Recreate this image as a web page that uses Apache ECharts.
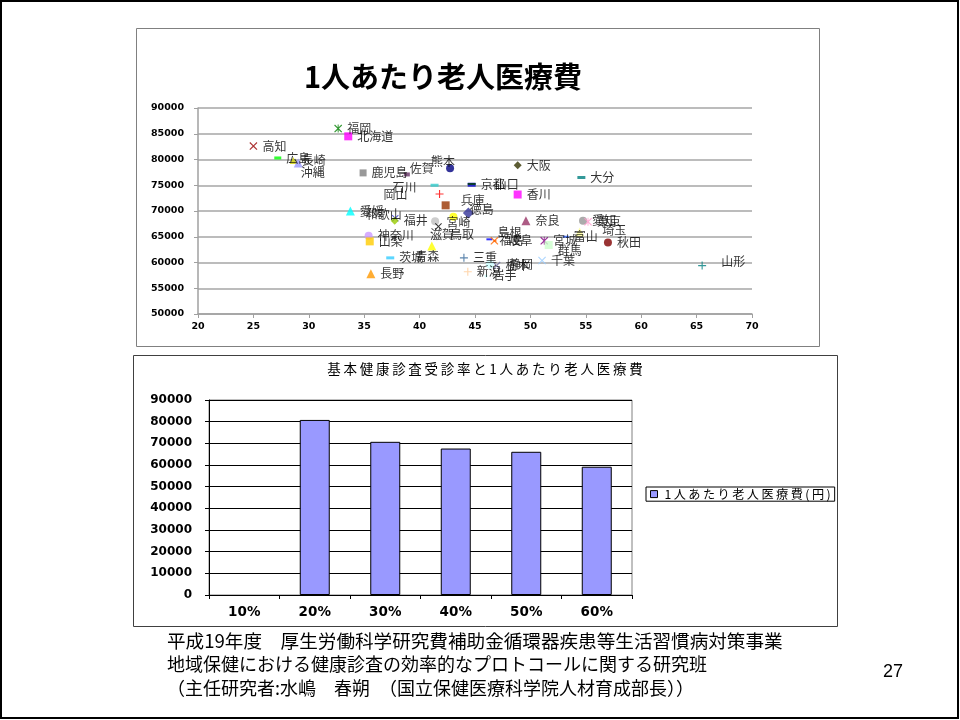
<!DOCTYPE html>
<html>
<head>
<meta charset="utf-8">
<script src="https://cdn.jsdelivr.net/npm/echarts@6/dist/echarts.min.js"></script>
<style>
html,body{margin:0;padding:0;background:#fff;}
#chart{width:960px;height:720px;}
</style>
</head>
<body>
<div id="chart"></div>
<script>
// ---- Scatter data: 基本健康診査受診率 (%) vs 1人あたり老人医療費 (円) ----
const prefNames = ['福岡','北海道','高知','広島','長崎','沖縄','鹿児島','佐賀','熊本','大阪','大分','京都','山口','石川','岡山','香川','兵庫','徳島','愛媛','和歌山','福井','宮崎','滋賀','鳥取','神奈川','山梨','青森','茨城','長野','三重','新潟','島根','福島','岐阜','栃木','静岡','岩手','奈良','愛知','東京','埼玉','富山','宮城','群馬','秋田','千葉','山形'];
const screeningRate = [32.65,33.56,25.0,27.2,28.6,29.05,34.9,38.85,42.75,48.85,54.6,44.7,44.7,41.35,41.8,48.85,42.35,44.4,33.75,37.8,37.75,43.05,41.4,41.7,35.4,35.5,41.1,37.35,35.6,44.0,44.35,46.3,46.75,46.8,46.95,46.35,46.0,49.6,54.75,55.2,54.45,53.2,51.25,51.65,57.0,51.05,65.5];
const elderCost = [86000,84500,82600,80300,79800,79300,77400,77100,78300,78900,76500,75100,75250,75000,73300,73200,71100,69600,70000,68600,68100,68900,68000,67000,65200,64100,63200,60900,57800,60900,58200,64500,64200,64200,59400,59600,57400,68100,68100,67900,65900,65000,64200,63400,63900,60400,59400];

// ---- Bar data: 受診率区分別 平均 1人あたり老人医療費 ----
const rateCategories = ['10%','20%','30%','40%','50%','60%'];
const avgCost = [null,80800,70700,67600,66100,59200];
const barSeriesName = '1人あたり老人医療費(円)';

// ---- Marker styles (symbol, color, size) ----
const SYM = {
  x: 'path://M1,0L5,4L9,0L10,1L6,5L10,9L9,10L5,6L1,10L0,9L4,5L0,1Z',
  plus: 'path://M4.3,0H5.7V4.3H10V5.7H5.7V10H4.3V5.7H0V4.3H4.3Z',
  star: 'path://M1,0L5,4L9,0L10,1L6,5L10,9L9,10L5,6L1,10L0,9L4,5L0,1Z M4.4,0H5.6V10H4.4Z',
  dash: 'path://M0,0H10V3H0Z'
};
const markerStyle = {
  '福岡':['star','#008000',8], '北海道':['rect','#FF00FF',8], '高知':['x','#990000',8],
  '広島':['dash','#00FF00',[7,3]], '長崎':['triangle','#CCCC00',7], '沖縄':['triangle','#9999FF',9],
  '鹿児島':['rect','#808080',7], '佐賀':['dash','#663366',[6,4]], '熊本':['circle','#000080',8],
  '大阪':['diamond','#333300',8], '大分':['dash','#008080',[8,3]], '京都':['dash','#0000CC',[8,4]],
  '山口':['dash','#004000',[8,2]], '石川':['dash','#33CCCC',[8,3]], '岡山':['plus','#FF0000',8],
  '香川':['rect','#FF00FF',8], '兵庫':['rect','#993300',8], '徳島':['diamond','#333399',11],
  '愛媛':['triangle','#00FFFF',9], '和歌山':['x','#3333CC',7], '福井':['diamond','#99CC00',8],
  '宮崎':['circle','#FFFF00',8], '滋賀':['circle','#C0C0C0',8], '鳥取':['x','#000000',7],
  '神奈川':['circle','#CC99FF',8], '山梨':['rect','#FFCC00',8], '青森':['triangle','#FFFF00',9],
  '茨城':['dash','#33CCFF',[8,3]], '長野':['triangle','#FF9900',9], '三重':['plus','#336699',8],
  '新潟':['plus','#FFCC99',8], '島根':['dash','#0000FF',[6,2]], '福島':['x','#FF6600',8],
  '岐阜':['dash','#FF6600',[3,2]], '栃木':['x','#666699',8], '静岡':['circle','#CCFFFF',8],
  '岩手':['circle','#CCFFFF',3], '奈良':['triangle','#993366',9], '愛知':['circle','#969696',8],
  '東京':['star','#FF99CC',8], '埼玉':['triangle','#FFFF99',9], '富山':['dash','#3366FF',[6,2]],
  '宮城':['star','#800080',8], '群馬':['rect','#CCFFCC',8], '秋田':['circle','#800000',8],
  '千葉':['x','#99CCFF',8], '山形':['plus','#008080',8]
};
const labelShift = {
  '熊本':[-28,-7], '石川':[-51,2], '岡山':[-65,0], '沖縄':[-7,9], '佐賀':[-5,-6], '山口':[14,0],
  '兵庫':[6,-5], '徳島':[-9,-4], '和歌山':[-38,-4], '宮崎':[-16,6], '滋賀':[-14,13], '鳥取':[3,8],
  '青森':[-26,10], '島根':[0,-7], '福島':[-4,0], '岐阜':[7,0], '静岡':[10,0], '埼玉':[13,-2],
  '群馬':[0,5], '山形':[10,-4]
};

const scatterData = prefNames.map(function(n, i){
  const st = markerStyle[n];
  const sym = SYM[st[0]] || st[0];
  return {
    name: n,
    value: [screeningRate[i], elderCost[i]],
    symbol: sym,
    symbolSize: st[2],
    itemStyle: {color: st[1]},
    label: {offset: labelShift[n] || [0,0]}
  };
});

function spaced(s, sp){ return s.split('').join(sp); }
function plain(v){ return String(v); }

const chart = echarts.init(document.getElementById('chart'));
const axisFont = 'DejaVu Sans';
const jpFont = '"Noto Sans CJK JP"';
chart.setOption({
  animation: false,
  backgroundColor: '#ffffff',
  grid: [
    {left:198, top:108, width:554, height:206},
    {left:209, top:400, width:423, height:195, show:true, borderColor:'#808080', borderWidth:1, backgroundColor:'#ffffff'}
  ],
  xAxis: [
    {type:'value', gridIndex:0, min:20, max:70, interval:5,
     axisLine:{show:true, onZero:false, lineStyle:{color:'#a0a0a0', width:1.5}},
     axisTick:{show:true, length:4, lineStyle:{color:'#a0a0a0'}},
     splitLine:{show:false},
     axisLabel:{color:'#000', fontFamily:axisFont, fontWeight:'bold', fontSize:9.5, margin:8, formatter:plain}},
    {type:'category', gridIndex:1, data:rateCategories,
     axisLine:{show:true, lineStyle:{color:'#000', width:1}},
     axisTick:{show:true, length:4, interval:0, lineStyle:{color:'#000'}},
     axisLabel:{color:'#000', fontFamily:axisFont, fontWeight:'bold', fontSize:13.5, margin:10}}
  ],
  yAxis: [
    {type:'value', gridIndex:0, min:50000, max:90000, interval:5000,
     axisLine:{show:true, onZero:false, lineStyle:{color:'#a0a0a0', width:1.5}},
     axisTick:{show:true, length:4, lineStyle:{color:'#a0a0a0'}},
     splitLine:{show:true, lineStyle:{color:'#a6a6a6', width:1.5}},
     axisLabel:{color:'#000', fontFamily:axisFont, fontWeight:'bold', fontSize:9.5, margin:14, formatter:plain}},
    {type:'value', gridIndex:1, min:0, max:90000, interval:10000,
     axisLine:{show:true, lineStyle:{color:'#000', width:1}},
     axisTick:{show:true, length:4, lineStyle:{color:'#000'}},
     splitLine:{show:true, lineStyle:{color:'#000', width:1}},
     axisLabel:{color:'#000', fontFamily:axisFont, fontWeight:'bold', fontSize:12, margin:17, formatter:plain}}
  ],
  legend: {
    data:[barSeriesName], left:646, top:487, orient:'vertical', icon:'rect',
    itemWidth:7, itemHeight:7, itemGap:4, padding:[1,4],
    borderColor:'#000', borderWidth:1, backgroundColor:'#fff',
    itemStyle:{borderColor:'#000', borderWidth:1},
    textStyle:{color:'#000', fontSize:12.2, fontFamily:jpFont, padding:[0,0,0,2]},
    formatter:function(n){return spaced(n,'\u2009');}
  },
  series: [
    {type:'scatter', xAxisIndex:0, yAxisIndex:0, data:scatterData,
     label:{show:true, position:'right', distance:5, formatter:'{b}', color:'#000',
            fontSize:12, fontFamily:jpFont},
     emphasis:{disabled:true}},
    {type:'bar', name:barSeriesName, xAxisIndex:1, yAxisIndex:1, data:avgCost, barWidth:30,
     itemStyle:{color:'#9999FF', borderColor:'#000', borderWidth:1},
     emphasis:{disabled:true}}
  ],
  graphic: [
    {type:'rect', shape:{x:1, y:1, width:957, height:717}, style:{fill:'none', stroke:'#000', lineWidth:2}, silent:true},
    {type:'rect', shape:{x:136.5, y:28.5, width:683, height:318}, style:{fill:'none', stroke:'#808080', lineWidth:1}, silent:true, z:-1},
    {type:'rect', shape:{x:133.5, y:355.5, width:704, height:271}, style:{fill:'none', stroke:'#404040', lineWidth:1}, silent:true, z:-1},
    {type:'text', x:443, y:77, style:{text:'1人あたり老人医療費', align:'center', verticalAlign:'middle', textAlign:'center', textVerticalAlign:'middle', fill:'#000', font:'bold 29px "Noto Sans CJK JP"'}},
    {type:'text', x:485, y:369, style:{text:spaced('基本健康診査受診率と1人あたり老人医療費','\u2009'), align:'center', verticalAlign:'middle', textAlign:'center', textVerticalAlign:'middle', fill:'#000', font:'13.5px "Noto Sans CJK JP"'}},
    {type:'text', x:167, y:641, style:{text:'平成19年度\u3000厚生労働科学研究費補助金循環器疾患等生活習慣病対策事業', align:'left', verticalAlign:'middle', textAlign:'left', textVerticalAlign:'middle', fill:'#000', font:'18.6px "Noto Sans CJK JP"'}},
    {type:'text', x:167, y:664, style:{text:'地域保健における健康診査の効率的なプロトコールに関する研究班', align:'left', verticalAlign:'middle', textAlign:'left', textVerticalAlign:'middle', fill:'#000', font:'18px "Noto Sans CJK JP"'}},
    {type:'text', x:167, y:688, style:{text:'（主任研究者:水嶋\u3000春朔\u3000（国立保健医療科学院人材育成部長））', align:'left', verticalAlign:'middle', textAlign:'left', textVerticalAlign:'middle', fill:'#000', font:'18px "Noto Sans CJK JP"'}},
    {type:'text', x:893, y:672, style:{text:'27', align:'center', verticalAlign:'middle', textAlign:'center', textVerticalAlign:'middle', fill:'#000', font:'18px "Liberation Sans"'}}
  ]
});
</script>
</body>
</html>
